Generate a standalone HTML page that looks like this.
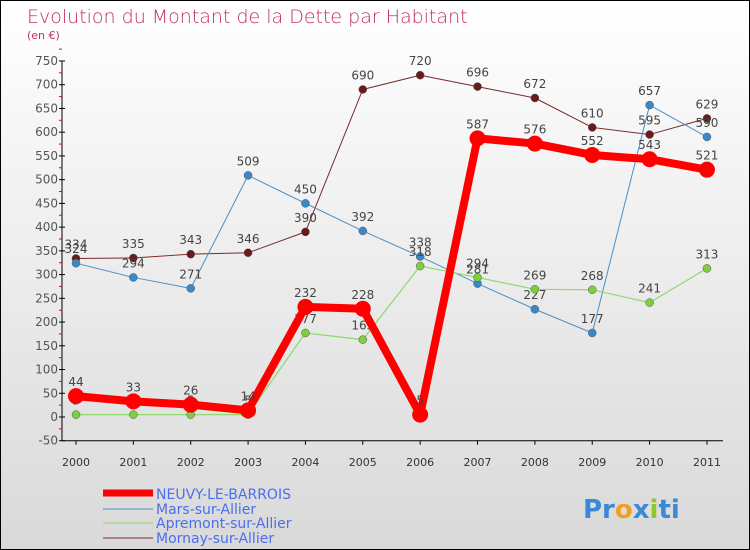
<!DOCTYPE html>
<html><head><meta charset="utf-8"><style>
body{margin:0}
#c{width:750px;height:550px;position:relative;box-sizing:border-box;border:1px solid #000;background:linear-gradient(#fff,#d9d9d9);font-family:"DejaVu Sans","Liberation Sans",sans-serif;overflow:hidden}
</style></head><body>
<div id="c">
<svg id="s" width="748" height="548" style="position:absolute;left:0;top:0">
<text x="26" y="22" font-size="19" fill="#c0305a" font-weight="200">Evolution du Montant de la Dette par Habitant</text>
<text x="26" y="38" font-size="11" fill="#c0305a">(en €)</text>
<g id="axes"></g><g id="series"></g>
<g>
<line x1="102" y1="492" x2="152" y2="492" stroke="#f00" stroke-width="7"/>
<text x="155" y="498" font-size="14" fill="#4a6ef0">NEUVY-LE-BARROIS</text>
<line x1="102" y1="508" x2="152" y2="508" stroke="#4a90c8" stroke-width="1"/>
<text x="155" y="513" font-size="14" fill="#4a6ef0">Mars-sur-Allier</text>
<line x1="102" y1="522" x2="152" y2="522" stroke="#8fd86a" stroke-width="1"/>
<text x="155" y="527" font-size="14" fill="#4a6ef0">Apremont-sur-Allier</text>
<line x1="102" y1="537" x2="152" y2="537" stroke="#7a2a2a" stroke-width="1"/>
<text x="155" y="542" font-size="14" fill="#4a6ef0">Mornay-sur-Allier</text>
</g>
<text x="582" y="517" font-size="26" font-weight="bold"><tspan fill="#3a8ad8">Pr</tspan><tspan fill="#f0a020">o</tspan><tspan fill="#3a8ad8">x</tspan><tspan fill="#8cc830">i</tspan><tspan fill="#3a8ad8">ti</tspan></text>
</svg></div>
<script>
const years=["2000","2001","2002","2003","2004","2005","2006","2007","2008","2009","2010","2011"];
const yTicks=[-50,0,50,100,150,200,250,300,350,400,450,500,550,600,650,700,750];
const neuvy=[44,33,26,14,232,228,5,587,576,552,543,521];
const mars=[324,294,271,509,450,392,338,281,227,177,657,590];
const apremont=[5,5,5,5,177,163,318,294,269,268,241,313];
const mornay=[334,335,343,346,390,690,720,696,672,610,595,629];
const NS="http://www.w3.org/2000/svg";
const xs=i=>75+i*57.36, ys=v=>416-v*0.4747;
function mk(t,a,p){const e=document.createElementNS(NS,t);for(const k in a)e.setAttribute(k,a[k]);p.appendChild(e);return e;}
const ax=document.getElementById('axes'), sg=document.getElementById('series');
const yl=mk('line',{x1:61,y1:ys(750),x2:61,y2:ys(-50),stroke:'#000'},ax);


const xl=mk('line',{x1:61,y1:ys(-50),x2:722,y2:ys(-50),stroke:'#000'},ax);


yTicks.forEach(v=>{
  mk('line',{x1:58,y1:ys(v),x2:64,y2:ys(v),stroke:'#000'},ax);
  mk('line',{x1:58,y1:ys(v+25),x2:61,y2:ys(v+25),stroke:'#e00'},ax);
  const t=mk('text',{x:57,y:ys(v)+4,'font-size':12,fill:'#555','text-anchor':'end'},ax);t.textContent=v;
  
  
});
years.forEach((y,i)=>{
  mk('line',{x1:xs(i),y1:ys(-50),x2:xs(i),y2:ys(-50)+4,stroke:'#000'},ax);
  const t=mk('text',{x:xs(i),y:465,'font-size':11,fill:'#333','text-anchor':'middle'},ax);t.textContent=y;
  
  
});
function series(d,col,w,r,name,dot){
  const g=mk('g',{},sg);
  
  
  mk('polyline',{points:d.map((v,i)=>xs(i)+','+ys(v)).join(' '),fill:'none',stroke:col,'stroke-width':w,'stroke-linejoin':'round'},g);
  d.forEach((v,i)=>{
    const c=mk('circle',{cx:xs(i),cy:ys(v),r:r,fill:dot,stroke:col==='#f00'?'#f00':'#555','stroke-width':col==='#f00'?0:0.5},g);
    
    
    const t=mk('text',{x:xs(i),y:ys(v)-10,'font-size':12,fill:'#444','text-anchor':'middle'},g);t.textContent=v;
    
    
  });
}
series(mornay,'#7a2a2a',1,4,'series-mornay','#6a1a1a');
series(mars,'#4a90c8',1,4,'series-mars','#3a88c8');
series(apremont,'#8fd86a',1.2,4,'series-apremont','#7cd040');
series(neuvy,'#f00',8,8,'series-neuvy','#f00');
</script>
</body></html>
